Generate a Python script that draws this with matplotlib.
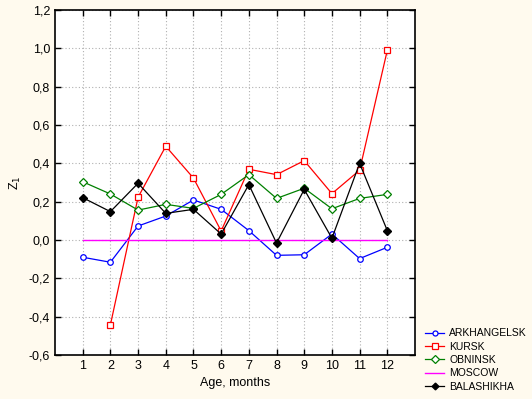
import matplotlib
matplotlib.use("Agg")
import matplotlib.pyplot as plt
from matplotlib.ticker import FuncFormatter

months = [1, 2, 3, 4, 5, 6, 7, 8, 9, 10, 11, 12]
arkhangelsk = [-0.09, -0.116, 0.073, 0.125, 0.209, 0.16, 0.049, -0.08, -0.077, 0.031, -0.097, -0.038]
kursk_months = [2, 3, 4, 5, 6, 7, 8, 9, 10, 11, 12]
kursk = [-0.443, 0.223, 0.489, 0.323, 0.047, 0.369, 0.341, 0.414, 0.242, 0.364, 0.99]
obninsk = [0.304, 0.24, 0.156, 0.186, 0.165, 0.238, 0.341, 0.217, 0.27, 0.163, 0.217, 0.238]
moscow = [0.0] * 12
balashikha = [0.221, 0.148, 0.296, 0.139, 0.16, 0.031, 0.289, -0.016, 0.264, 0.009, 0.4, 0.049]

plt.rcParams['font.family'] = ['Liberation Sans', 'DejaVu Sans']

fig = plt.figure(figsize=(5.32, 3.99), dpi=100, facecolor='#fffaee')
ax = fig.add_axes([55/532, 44/399, 360/532, 345/399])
ax.set_facecolor('white')

ax.plot(months, arkhangelsk, color='blue', lw=0.9, marker='o', ms=4, mfc='white', mec='blue', mew=0.9, label='ARKHANGELSK')
ax.plot(kursk_months, kursk, color='red', lw=0.9, marker='s', ms=5, mfc='white', mec='red', mew=0.9, label='KURSK')
ax.plot(months, obninsk, color='green', lw=0.9, marker='D', ms=4.5, mfc='white', mec='green', mew=0.9, label='OBNINSK')
ax.plot(months, moscow, color='magenta', lw=1.0, label='MOSCOW')
ax.plot(months, balashikha, color='black', lw=0.9, marker='D', ms=3.8, mfc='black', mec='black', label='BALASHIKHA')

ax.set_xlim(0, 13)
ax.set_ylim(-0.6, 1.2)
ax.set_xticks(months)
ax.set_yticks([-0.6, -0.4, -0.2, 0.0, 0.2, 0.4, 0.6, 0.8, 1.0, 1.2])
ax.yaxis.set_major_formatter(FuncFormatter(lambda v, p: ('%.1f' % v).replace('.', ',')))
ax.tick_params(direction='in', top=True, right=True, labelsize=9, length=4, width=1)
ax.grid(True, color='#b0b0b0', linestyle=(0, (1, 2)), lw=0.8)
for s in ax.spines.values():
    s.set_linewidth(1.2)

ax.set_xlabel('Age, months', fontsize=9)
ax.set_ylabel('Z$_1$', fontsize=9)

ax.legend(loc='lower left', bbox_to_anchor=(420/532, 2/399), bbox_transform=fig.transFigure,
          frameon=False, fontsize=7.5, handlelength=1.8, handletextpad=0.5, labelspacing=0.32, borderpad=0,
          markerscale=0.9)

fig.savefig('out.png', dpi=100, facecolor=fig.get_facecolor())
